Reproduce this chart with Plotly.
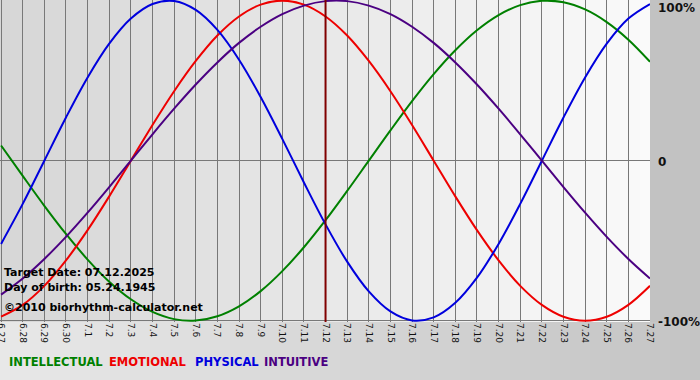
import plotly.graph_objects as go

# ---- data ----
date_labels = ["6.27", "6.28", "6.29", "6.30", "7.1", "7.2", "7.3", "7.4", "7.5", "7.6",
               "7.7", "7.8", "7.9", "7.10", "7.11", "7.12", "7.13", "7.14", "7.15", "7.16",
               "7.17", "7.18", "7.19", "7.20", "7.21", "7.22", "7.23", "7.24", "7.25", "7.26",
               "7.27"]
target_label = "7.12"

physical = [-0.520, -0.270, 0.000, 0.270, 0.520, 0.731, 0.888, 0.979, 0.998, 0.942,
            0.817, 0.631, 0.398, 0.136, -0.136, -0.398, -0.631, -0.817, -0.942, -0.998,
            -0.979, -0.888, -0.731, -0.520, -0.270, 0.000, 0.270, 0.520, 0.731, 0.888,
            0.979]
emotional = [-0.975, -0.901, -0.782, -0.623, -0.434, -0.223, 0.000, 0.223, 0.434, 0.623,
             0.782, 0.901, 0.975, 1.000, 0.975, 0.901, 0.782, 0.623, 0.434, 0.223,
             0.000, -0.223, -0.434, -0.623, -0.782, -0.901, -0.975, -1.000, -0.975, -0.901,
             -0.782]
intellectual = [0.095, -0.095, -0.282, -0.458, -0.618, -0.756, -0.866, -0.945, -0.990, -0.999,
                -0.972, -0.910, -0.815, -0.690, -0.541, -0.372, -0.189, 0.000, 0.189, 0.372,
                0.541, 0.690, 0.815, 0.910, 0.972, 0.999, 0.990, 0.945, 0.866, 0.756,
                0.618]
intuitive = [-0.837, -0.736, -0.614, -0.476, -0.325, -0.165, 0.000, 0.165, 0.325, 0.476,
             0.614, 0.736, 0.837, 0.916, 0.969, 0.997, 0.997, 0.969, 0.916, 0.837,
             0.736, 0.614, 0.476, 0.325, 0.165, 0.000, -0.165, -0.325, -0.476, -0.614,
             -0.736]

y_tick_vals = [1, 0, -1]
y_tick_text = ["100%", "0", "-100%"]

legend_names = ["INTELLECTUAL", "EMOTIONAL", "PHYSICAL", "INTUITIVE"]
info_lines = ["Target Date: 07.12.2025", "Day of birth: 05.24.1945",
              "\u00a92010 biorhythm-calculator.net"]

# ---- styling ----
colors = {"INTELLECTUAL": "#008000", "EMOTIONAL": "#ee0000",
          "PHYSICAL": "#0000dd", "INTUITIVE": "#4b0082"}
series = {"INTELLECTUAL": intellectual, "EMOTIONAL": emotional,
          "PHYSICAL": physical, "INTUITIVE": intuitive}

W, H = 700, 380
L, R, T, B = 0, 50, 0, 58
plot_w, plot_h = W - L - R, H - T - B
bold_font = "DejaVu Sans"

def lerp_col(c0, c1, t):
    return "rgb(%d,%d,%d)" % tuple(round(a + (b - a) * t) for a, b in zip(c0, c1))

shapes = []
# right margin
shapes.append(dict(type="rect", xref="paper", yref="paper", x0=1, x1=1 + R / plot_w,
                   y0=0, y1=1, fillcolor="#c2c2c2", line_width=0, layer="below"))
# bottom gradient
n = 70
for i in range(n):
    shapes.append(dict(type="rect", xref="paper", yref="paper",
                       x0=i / n * (W / plot_w), x1=(i + 1.05) / n * (W / plot_w),
                       y0=-B / plot_h, y1=0,
                       fillcolor=lerp_col((232, 232, 232), (196, 196, 196), i / (n - 1)),
                       line_width=0, layer="below"))
# plot area gradient
n = 65
for i in range(n):
    shapes.append(dict(type="rect", xref="x domain", yref="y domain",
                       x0=i / n, x1=min(1, (i + 1.05) / n), y0=0, y1=1,
                       fillcolor=lerp_col((214, 214, 214), (250, 250, 250), i / (n - 1)),
                       line_width=0, layer="below"))
# target date line
ti = date_labels.index(target_label)
shapes.append(dict(type="line", xref="x", yref="y domain", x0=ti, x1=ti, y0=0, y1=1,
                   line=dict(color="#800000", width=2), layer="above"))

fig = go.Figure()
for name in legend_names:
    fig.add_trace(go.Scatter(x=date_labels, y=series[name], mode="lines",
                             line=dict(color=colors[name], width=2, shape="spline",
                                       smoothing=1.0),
                             hoverinfo="skip", showlegend=False, cliponaxis=True))

annotations = []
ymin, ymax = -1.008, 1.004
def ypix_to_paper(yp):
    return (plot_h - yp) / plot_h

# right axis labels
ypos = {"100%": 8, "0": 162, "-100%": 322}
for v, t in zip(y_tick_vals, y_tick_text):
    annotations.append(dict(text="<b>%s</b>" % t, xref="paper", yref="paper",
                            x=(656 - L) / plot_w, y=ypix_to_paper(ypos[t]),
                            xanchor="left", yanchor="middle", showarrow=False,
                            font=dict(family=bold_font, size=12, color="#111111")))
# info texts
for t, yp in zip(info_lines, [272, 287, 307]):
    annotations.append(dict(text="<b>%s</b>" % t, xref="paper", yref="paper",
                            x=2 / plot_w, y=ypix_to_paper(yp), xanchor="left",
                            yanchor="middle", showarrow=False,
                            font=dict(family=bold_font, size=11, color="#000000")))
# legend words
for name, xp in zip(legend_names, [7, 107, 193, 262]):
    annotations.append(dict(text="<b>%s</b>" % name, xref="paper", yref="paper",
                            x=xp / plot_w, y=ypix_to_paper(362), xanchor="left",
                            yanchor="middle", showarrow=False,
                            font=dict(family=bold_font, size=11.5, color=colors[name])))

fig.update_layout(
    width=W, height=H, margin=dict(l=L, r=R, t=T, b=B, pad=0, autoexpand=False),
    paper_bgcolor="#ffffff", plot_bgcolor="rgba(0,0,0,0)",
    shapes=shapes, annotations=annotations, showlegend=False,
    xaxis=dict(type="category", range=[-0.05, 30], showgrid=True, gridcolor="#787878",
               gridwidth=1, zeroline=False, showline=False, ticks="", automargin=False,
               tickangle=90, tickfont=dict(family="DejaVu Sans", size=9, color="#111111"),
               fixedrange=True),
    yaxis=dict(range=[ymin, ymax], tickvals=y_tick_vals, showticklabels=False,
               showgrid=True, gridcolor="#787878", gridwidth=1, zeroline=False,
               showline=False, ticks="", fixedrange=True, automargin=False),
)

fig.write_html("out.html")
